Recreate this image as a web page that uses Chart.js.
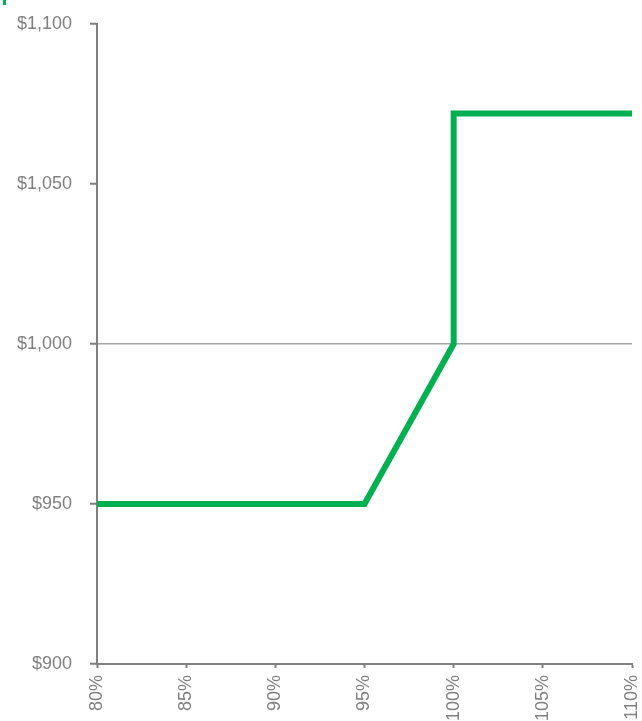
<!DOCTYPE html>
<html>
<head>
<meta charset="utf-8">
<script src="https://cdn.jsdelivr.net/npm/chart.js@4/dist/chart.umd.min.js"></script>
<style>
  html, body { margin: 0; padding: 0; background: #fff; overflow: hidden; }
  #wrap { position: relative; width: 642px; height: 760px; }
  #mark { position: absolute; left: 3px; top: 0; width: 3px; height: 5px; background: #00b050; }
</style>
</head>
<body>
<div id="wrap">
  <div id="mark"></div>
  <canvas id="chart" width="642" height="760"></canvas>
</div>
<script>
"use strict";

// payoff points: x = percent of reference, y = dollars
const xPercent = [80, 95, 100, 100, 110];
const payoff = [950, 950, 1000, 1072, 1072];
const yTicks = [900, 950, 1000, 1050, 1100];
const xTicks = [80, 85, 90, 95, 100, 105, 110];

const lineGreen = "#00b050";
const axisGray = "#808080";
const textGray = "#808080";

const points = [];
for (let i = 0; i < xPercent.length; i++) {
  points.push({ x: xPercent[i], y: payoff[i] });
}

const chartCanvas = document.getElementById("chart");

const payoffChart = new Chart(chartCanvas, {
  type: "line",
  data: {
    datasets: [
      {
        data: points,
        borderColor: lineGreen,
        borderWidth: 6,
        pointRadius: 0,
        tension: 0,
        borderCapStyle: "square",
        borderJoinStyle: "miter",
      },
    ],
  },
  options: {
    responsive: false,
    animation: false,
    layout: { padding: { top: 24, right: 10, left: 0, bottom: 0 } },
    plugins: { legend: { display: false }, tooltip: { enabled: false } },
    scales: {
      x: {
        type: "linear",
        min: xTicks[0],
        max: xTicks[xTicks.length - 1],
        afterBuildTicks: (scale) => {
          scale.ticks = xTicks.map((v) => ({ value: v }));
        },
        afterFit: (scale) => {
          scale.height = 96;
          scale.paddingLeft = 0;
          scale.paddingRight = 0;
        },
        border: { color: axisGray, width: 2 },
        grid: {
          drawOnChartArea: false,
          tickColor: axisGray,
          tickLength: 4,
          tickWidth: 2,
        },
        ticks: {
          color: textGray,
          font: { family: "Liberation Sans, Arial, sans-serif", size: 18 },
          minRotation: 90,
          maxRotation: 90,
          padding: 7,
          callback: (value) => value + "%",
        },
      },
      y: {
        min: yTicks[0],
        max: yTicks[yTicks.length - 1],
        afterBuildTicks: (scale) => {
          scale.ticks = yTicks.map((v) => ({ value: v }));
        },
        afterFit: (scale) => {
          scale.width = 97;
          scale.paddingTop = 0;
          scale.paddingBottom = 0;
        },
        border: { color: axisGray, width: 2 },
        grid: {
          color: (ctx) => (ctx.tick && ctx.tick.value === 1000 ? "#a6a6a6" : "rgba(0,0,0,0)"),
          lineWidth: 1.5,
          tickColor: axisGray,
          tickLength: 7,
          tickWidth: 2,
        },
        ticks: {
          color: textGray,
          font: { family: "Liberation Sans, Arial, sans-serif", size: 18 },
          padding: 18,
          callback: (value) => "$" + value.toLocaleString("en-US"),
        },
      },
    },
  },
});
</script>
</body>
</html>
